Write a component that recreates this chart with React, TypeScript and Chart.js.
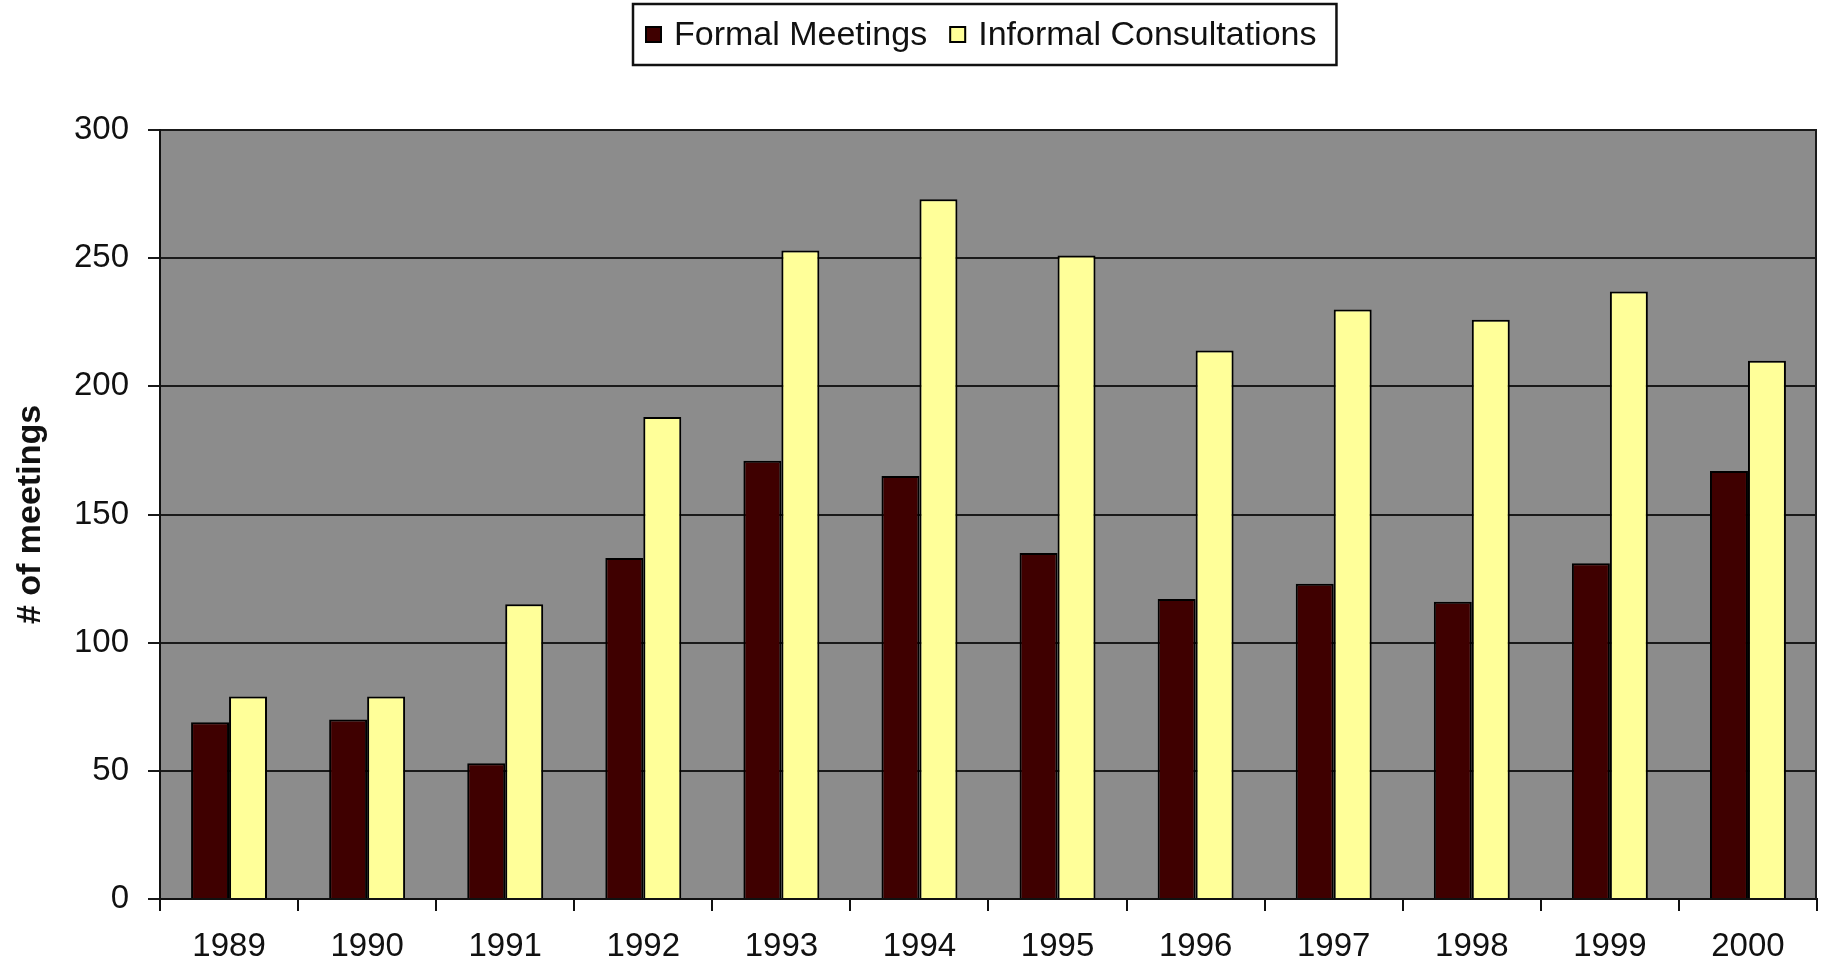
import React, { useEffect, useRef } from "react";
import { Chart, registerables } from "chart.js";

Chart.register(...registerables);

const years = ["1989", "1990", "1991", "1992", "1993", "1994", "1995", "1996", "1997", "1998", "1999", "2000"];
const formalMeetings = [69, 70, 53, 133, 171, 165, 135, 117, 123, 116, 131, 167];
const informalConsultations = [79, 79, 115, 188, 253, 273, 251, 214, 230, 226, 237, 210];
const seriesLabels = ["Formal Meetings", "Informal Consultations"];
const seriesColors = ["#3f0000", "#ffff99"];
const yAxisTitle = "# of meetings";
const yMin = 0;
const yMax = 300;
const yStep = 50;

const FONT = '"Liberation Sans", Arial, Helvetica, sans-serif';

export default function App() {
  const ref = useRef<HTMLCanvasElement | null>(null);

  useEffect(() => {
    if (!ref.current) return;

    const plotBg = {
      id: "plotBg",
      beforeDraw(chart: any) {
        const { ctx, chartArea } = chart;
        const { left, top, right, bottom } = chartArea;
        ctx.save();
        ctx.fillStyle = "#8c8c8c";
        ctx.fillRect(left, top, right - left, bottom - top);
        ctx.restore();
      },
      afterDraw(chart: any) {
        const { ctx, chartArea } = chart;
        const { top, right, bottom } = chartArea;
        ctx.save();
        ctx.strokeStyle = "#1a1a1a";
        ctx.lineWidth = 2;
        ctx.beginPath();
        ctx.moveTo(right - 1, top);
        ctx.lineTo(right - 1, bottom);
        ctx.stroke();
        ctx.restore();
      },
    };

    const boxLegend = {
      id: "boxLegend",
      afterDraw(chart: any) {
        const ctx = chart.ctx;
        const ds = chart.data.datasets;
        ctx.save();
        ctx.font = `34px ${FONT}`;
        const sq = 17;
        const padL = 12;
        const gapSqText = 12;
        const gapItems = 22;
        const padR = 20;
        const widths = ds.map((d: any) => ctx.measureText(d.label).width);
        let total = padL + padR;
        widths.forEach((w: number, i: number) => {
          total += sq + gapSqText + w + (i < widths.length - 1 ? gapItems : 0);
        });
        const cx = 984.5;
        const boxTop = 4;
        const boxH = 61;
        const x0 = Math.round(cx - total / 2);
        ctx.fillStyle = "#ffffff";
        ctx.fillRect(x0, boxTop, total, boxH);
        ctx.strokeStyle = "#111";
        ctx.lineWidth = 2.5;
        ctx.strokeRect(x0, boxTop, total, boxH);
        const cy = boxTop + boxH / 2;
        let x = x0 + padL;
        ds.forEach((d: any, i: number) => {
          ctx.fillStyle = d.backgroundColor;
          ctx.fillRect(x, cy - sq / 2, sq, sq);
          ctx.strokeStyle = "#000";
          ctx.lineWidth = 2;
          ctx.strokeRect(x + 1, cy - sq / 2 + 1, sq - 2, sq - 2);
          x += sq + gapSqText;
          ctx.fillStyle = "#111";
          ctx.textBaseline = "middle";
          ctx.textAlign = "left";
          ctx.fillText(d.label, x, cy + 1);
          x += widths[i] + gapItems;
        });
        ctx.restore();
      },
    };

    const chart = new Chart(ref.current, {
      type: "bar",
      data: {
        labels: years,
        datasets: [
          {
            label: seriesLabels[0],
            data: formalMeetings,
            backgroundColor: seriesColors[0],
            borderColor: "#000",
            borderWidth: 2,
            borderSkipped: "bottom",
            categoryPercentage: 0.55,
            barPercentage: 1.0,
          },
          {
            label: seriesLabels[1],
            data: informalConsultations,
            backgroundColor: seriesColors[1],
            borderColor: "#000",
            borderWidth: 2,
            borderSkipped: "bottom",
            categoryPercentage: 0.55,
            barPercentage: 1.0,
          },
        ],
      },
      options: {
        responsive: false,
        animation: false,
        layout: { padding: { top: 130, left: 0, right: 5, bottom: 0 } },
        plugins: {
          legend: { display: false },
          tooltip: { enabled: false },
        },
        scales: {
          x: {
            afterFit(scale: any) {
              scale.height = 64;
            },
            grid: {
              display: true,
              drawOnChartArea: false,
              drawTicks: true,
              tickLength: 12,
              color: "#111",
              lineWidth: 2,
              offset: true,
            },
            border: { display: true, color: "#111", width: 2 },
            ticks: {
              color: "#111",
              font: { family: FONT, size: 33 },
              padding: 16,
              maxRotation: 0,
              autoSkip: false,
            },
          },
          y: {
            min: yMin,
            max: yMax,
            afterFit(scale: any) {
              scale.width = 160;
            },
            grid: {
              display: true,
              drawOnChartArea: true,
              drawTicks: true,
              tickLength: 12,
              color: "#1a1a1a",
              lineWidth: 2,
            },
            border: { display: true, color: "#111", width: 2 },
            ticks: {
              stepSize: yStep,
              color: "#111",
              font: { family: FONT, size: 33 },
              padding: 19,
            },
            title: {
              display: true,
              text: yAxisTitle,
              color: "#111",
              font: { family: FONT, size: 34, weight: "bold" },
              padding: { top: 10, bottom: 0 },
            },
          },
        },
      },
      plugins: [plotBg, boxLegend],
    });

    return () => chart.destroy();
  }, []);

  return (
    <div style={{ position: "fixed", left: 0, top: 0, width: 1822, height: 963, background: "#fff" }}>
      <canvas ref={ref} width={1822} height={963} style={{ display: "block" }} />
    </div>
  );
}
